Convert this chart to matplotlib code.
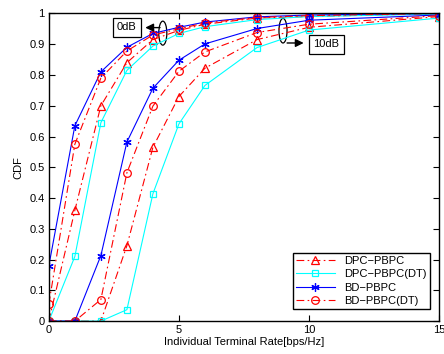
import matplotlib
matplotlib.use("Agg")
import matplotlib.pyplot as plt
from matplotlib.patches import Ellipse

plt.rcParams['font.family'] = ['Liberation Sans', 'DejaVu Sans']

# rate points [bps/Hz]
rate = [0, 1, 2, 3, 4, 5, 6, 8, 10, 15]

# 0dB curves
dpc_0 = [0.0, 0.36, 0.70, 0.84, 0.915, 0.945, 0.965, 0.985, 0.99, 1.0]
dpc_dt_0 = [0.0, 0.21, 0.645, 0.815, 0.894, 0.935, 0.957, 0.98, 0.99, 0.998]
bd_0 = [0.18, 0.635, 0.81, 0.89, 0.935, 0.955, 0.972, 0.989, 0.995, 1.0]
bd_dt_0 = [0.055, 0.575, 0.79, 0.878, 0.93, 0.95, 0.969, 0.987, 0.993, 1.0]

# 10dB curves
dpc_10 = [0.0, 0.0, 0.0, 0.245, 0.565, 0.73, 0.822, 0.915, 0.955, 0.99]
dpc_dt_10 = [0.0, 0.0, 0.0, 0.037, 0.414, 0.641, 0.766, 0.889, 0.946, 0.985]
bd_10 = [0.0, 0.0, 0.213, 0.582, 0.757, 0.848, 0.901, 0.951, 0.978, 0.995]
bd_dt_10 = [0.0, 0.0, 0.07, 0.482, 0.699, 0.812, 0.875, 0.938, 0.965, 0.993]

labels = ['DPC\u2212PBPC', 'DPC\u2212PBPC(DT)', 'BD\u2212PBPC', 'BD\u2212PBPC(DT)']

dashdot = (0, (7, 3, 1.5, 3))
styles = [
    dict(color='red', ls=dashdot, marker='^', mfc='none', ms=6),
    dict(color='cyan', ls='-', marker='s', mfc='none', ms=4.5),
    dict(color='blue', ls='-', marker=(6, 2, 0), ms=6),
    dict(color='red', ls=dashdot, marker='o', mfc='none', ms=5.5),
]

fig = plt.figure(figsize=(4.44, 3.54), dpi=100)
ax = fig.add_axes([0.110, 0.093, 0.879, 0.869])

for ys, st, lab in zip([dpc_0, dpc_dt_0, bd_0, bd_dt_0], styles, labels):
    ax.plot(rate, ys, lw=0.8, mew=0.9, label=lab, **st)
for ys, st in zip([dpc_10, dpc_dt_10, bd_10, bd_dt_10], styles):
    ax.plot(rate, ys, lw=0.8, mew=0.9, **st)

ax.set_xlim(0, 15)
ax.set_ylim(0, 1)
ax.set_xticks([0, 5, 10, 15])
ax.set_yticks([i / 10 for i in range(11)])
ax.set_yticklabels(['0', '0.1', '0.2', '0.3', '0.4', '0.5', '0.6', '0.7', '0.8', '0.9', '1'])
ax.tick_params(direction='in', top=True, right=True, labelsize=8, length=4, pad=3)
for s in ax.spines.values():
    s.set_linewidth(1.0)
ax.set_xlabel('Individual Terminal Rate[bps/Hz]', fontsize=8, labelpad=1)
ax.set_ylabel('CDF', fontsize=8, labelpad=4)

# 0dB annotation
ax.add_patch(Ellipse((4.38, 0.936), 0.31, 0.078, fill=False, ec='black', lw=0.9))
ax.annotate('', xy=(3.6, 0.954), xytext=(4.38, 0.954),
            arrowprops=dict(arrowstyle='-|>', color='black', lw=1.0, mutation_scale=12))
ax.text(3.0, 0.955, '0dB', fontsize=8, ha='center', va='center',
        bbox=dict(boxstyle='square,pad=0.4', fc='white', ec='black', lw=0.9))

# 10dB annotation
ax.add_patch(Ellipse((9.0, 0.944), 0.31, 0.08, fill=False, ec='black', lw=0.9))
ax.annotate('', xy=(9.9, 0.904), xytext=(9.05, 0.904),
            arrowprops=dict(arrowstyle='-|>', color='black', lw=1.0, mutation_scale=12))
ax.text(10.67, 0.90, '10dB', fontsize=8, ha='center', va='center',
        bbox=dict(boxstyle='square,pad=0.4', fc='white', ec='black', lw=0.9))

leg = ax.legend(loc='lower right', bbox_to_anchor=(0.99, 0.02), fontsize=8,
                fancybox=False, edgecolor='black', framealpha=1,
                handlelength=3.5, borderpad=0.3, labelspacing=0.3)
leg.get_frame().set_linewidth(1.0)

fig.savefig('out.png', dpi=100)
